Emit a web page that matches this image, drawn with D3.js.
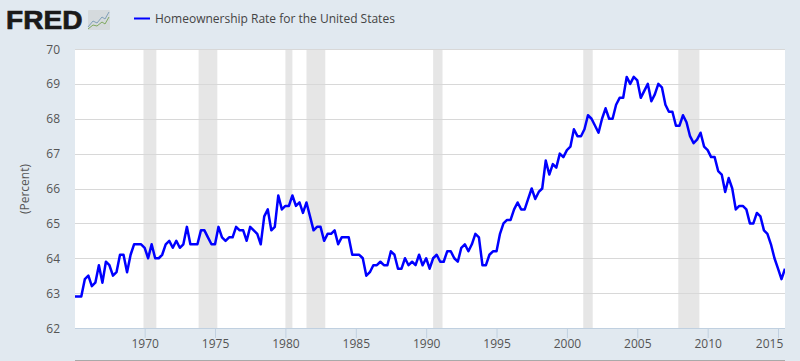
<!DOCTYPE html>
<html>
<head>
<meta charset="utf-8">
<script src="https://cdnjs.cloudflare.com/ajax/libs/d3/7.8.5/d3.min.js"></script>
<style>
html, body { margin: 0; padding: 0; background: #e1e9f0; overflow: hidden; }
text { font-family: "Open Sans", sans-serif; }
</style>
</head>
<body>
<div id="chart"></div>
<script>
var seriesName = 'Homeownership Rate for the United States';
var yAxisLabel = '(Percent)';
var startYear = 1965;

// quarterly values, one row per year
var rates = [
    62.9, 62.9, 62.9, 63.4,
    63.5, 63.2, 63.3, 63.8,
    63.3, 63.9, 63.8, 63.5,
    63.6, 64.1, 64.1, 63.6,
    64.1, 64.4, 64.4, 64.4,
    64.3, 64.0, 64.4, 64.0,
    64.0, 64.1, 64.4, 64.5,
    64.3, 64.5, 64.3, 64.4,
    64.9, 64.4, 64.4, 64.4,
    64.8, 64.8, 64.6, 64.4,
    64.4, 64.9, 64.6, 64.5,
    64.6, 64.6, 64.9, 64.8,
    64.8, 64.5, 64.9, 64.8,
    64.7, 64.4, 65.2, 65.4,
    64.8, 64.9, 65.8, 65.4,
    65.5, 65.5, 65.8, 65.5,
    65.6, 65.3, 65.6, 65.2,
    64.8, 64.9, 64.9, 64.5,
    64.7, 64.7, 64.8, 64.4,
    64.6, 64.6, 64.6, 64.1,
    64.1, 64.1, 64.0, 63.5,
    63.6, 63.8, 63.8, 63.9,
    63.8, 63.8, 64.2, 64.1,
    63.7, 63.7, 64.0, 63.8,
    63.9, 63.8, 64.1, 63.8,
    64.0, 63.7, 64.0, 64.1,
    63.9, 63.9, 64.2, 64.2,
    64.0, 63.9, 64.3, 64.4,
    64.2, 64.4, 64.7, 64.6,
    63.8, 63.8, 64.1, 64.2,
    64.2, 64.7, 65.0, 65.1,
    65.1, 65.4, 65.6, 65.4,
    65.4, 65.7, 66.0, 65.7,
    65.9, 66.0, 66.8, 66.4,
    66.7, 66.6, 67.0, 66.9,
    67.1, 67.2, 67.7, 67.5,
    67.5, 67.7, 68.1, 68.0,
    67.8, 67.6, 68.0, 68.3,
    68.0, 68.0, 68.4, 68.6,
    68.6, 69.2, 69.0, 69.2,
    69.1, 68.6, 68.8, 69.0,
    68.5, 68.7, 69.0, 68.9,
    68.4, 68.2, 68.2, 67.8,
    67.8, 68.1, 67.9, 67.5,
    67.3, 67.4, 67.6, 67.2,
    67.1, 66.9, 66.9, 66.5,
    66.4, 65.9, 66.3, 66.0,
    65.4, 65.5, 65.5, 65.4,
    65.0, 65.0, 65.3, 65.2,
    64.8, 64.7, 64.4, 64.0,
    63.7, 63.4, 63.7
];

// shaded recession periods
var recessionStarts = ['1969-12-01', '1973-11-01', '1980-01-01', '1981-07-01', '1990-07-01', '2001-03-01', '2007-12-01'];
var recessionEnds = ['1970-11-01', '1975-03-01', '1980-07-01', '1982-11-01', '1991-03-01', '2001-11-01', '2009-06-01'];

var xTicks = [1970, 1975, 1980, 1985, 1990, 1995, 2000, 2005, 2010, 2015];
var yTicks = [62, 63, 64, 65, 66, 67, 68, 69, 70];

var parseDate = d3.utcParse('%Y-%m-%d');

var svg = d3.select('#chart')
    .append('svg')
    .attr('width', 800)
    .attr('height', 361)
    .style('display', 'block');

var x = d3.scaleUtc()
    .domain([new Date(Date.UTC(startYear, 0, 1)), new Date(Date.UTC(startYear + 50, 6, 1))])
    .range([74.3, 785]);
var y = d3.scaleLinear().domain([62, 70]).range([328, 49]);

// keeps the first point from spilling onto the blue margin
svg.append('clipPath')
    .attr('id', 'plot_clip')
    .append('rect')
    .attr('x', 75)
    .attr('y', 40)
    .attr('width', 710)
    .attr('height', 290);

// plot background
svg.append('rect')
    .attr('x', 75)
    .attr('y', 49)
    .attr('width', 710)
    .attr('height', 279)
    .attr('fill', '#ffffff');

// recession bars
svg.append('g')
    .selectAll('rect')
    .data(recessionStarts)
    .enter()
    .append('rect')
    .attr('x', function(d) {
        return x(parseDate(d));
    })
    .attr('y', 49)
    .attr('width', function(d, i) {
        return x(parseDate(recessionEnds[i])) - x(parseDate(d));
    })
    .attr('height', 279)
    .attr('fill', '#e6e6e6');

// grid lines
svg.append('g')
    .selectAll('line')
    .data(yTicks)
    .enter()
    .append('line')
    .attr('x1', 75)
    .attr('x2', 785)
    .attr('y1', function(d) {
        return Math.round(y(d)) + 0.5;
    })
    .attr('y2', function(d) {
        return Math.round(y(d)) + 0.5;
    })
    .attr('stroke', function(d) {
        return d === 62 ? '#c0d0e0' : '#d8d8d8';
    });

// y axis labels
svg.append('g')
    .selectAll('text')
    .data(yTicks)
    .enter()
    .append('text')
    .attr('x', 60)
    .attr('y', function(d) {
        return y(d) + 4.5;
    })
    .attr('text-anchor', 'end')
    .attr('font-size', '12px')
    .attr('fill', '#555555')
    .text(function(d) {
        return d;
    });

// x axis ticks and labels
var xAxis = svg.append('g')
    .attr('transform', 'translate(0,328)')
    .call(d3.axisBottom(x)
        .tickValues(xTicks.map(function(d) {
            return new Date(Date.UTC(d, 0, 1));
        }))
        .tickFormat(d3.utcFormat('%Y'))
        .tickSize(10)
        .tickPadding(1));
xAxis.select('.domain').remove();
xAxis.selectAll('line').attr('stroke', '#c0d0e0');
xAxis.selectAll('text')
    .attr('font-family', '"Open Sans", sans-serif')
    .attr('font-size', '12px')
    .attr('fill', '#555555')
    .attr('dx', function(d) {
        // the last label gets pushed left so it stays inside the plot
        return d.getUTCFullYear() === 2015 ? -9 : 0;
    });

// y axis title
svg.append('text')
    .attr('transform', 'translate(29,189) rotate(-90)')
    .attr('text-anchor', 'middle')
    .attr('font-size', '12px')
    .attr('fill', '#555555')
    .text(yAxisLabel);

// the series
var line = d3.line()
    .x(function(d, i) {
        return x(new Date(Date.UTC(startYear, i * 3, 1)));
    })
    .y(function(d) {
        return y(d);
    });

svg.append('path')
    .datum(rates)
    .attr('d', line)
    .attr('clip-path', 'url(#plot_clip)')
    .attr('fill', 'none')
    .attr('stroke', '#0000ff')
    .attr('stroke-width', 2.5)
    .attr('stroke-linejoin', 'round');

// thin rule along the bottom of the picture
svg.append('line')
    .attr('x1', 75)
    .attr('x2', 785)
    .attr('y1', 360.5)
    .attr('y2', 360.5)
    .attr('stroke', '#a9a9a9');

// legend
svg.append('line')
    .attr('x1', 134)
    .attr('x2', 150)
    .attr('y1', 18.5)
    .attr('y2', 18.5)
    .attr('stroke', '#0000ff')
    .attr('stroke-width', 2);
svg.append('text')
    .attr('x', 155)
    .attr('y', 23)
    .attr('font-size', '12px')
    .attr('fill', '#444444')
    .text(seriesName);

// logo
svg.append('text')
    .attr('transform', 'translate(6,29) scale(1.06,1)')
    .attr('style', 'font-family: "Liberation Sans", sans-serif')
    .attr('font-size', '26.5px')
    .attr('font-weight', 700)
    .attr('fill', '#1a1a1a')
    .attr('stroke', '#1a1a1a')
    .attr('stroke-width', 0.7)
    .text('FRED');

var logo = svg.append('g').attr('transform', 'translate(88,10)');
logo.append('rect')
    .attr('width', 22)
    .attr('height', 20)
    .attr('rx', 1)
    .attr('fill', '#d5dadd');
logo.append('path')
    .attr('d', d3.line()([[0, 17], [5, 11], [9, 13], [14, 7], [17, 9], [21, 2]]))
    .attr('fill', 'none')
    .attr('stroke', '#7f9fb8')
    .attr('stroke-width', 1);
logo.append('path')
    .attr('d', d3.line()([[0, 19], [5, 15], [9, 16], [14, 12], [17, 14], [21, 7]]))
    .attr('fill', 'none')
    .attr('stroke', '#7fa860')
    .attr('stroke-width', 1);
</script>
</body>
</html>
